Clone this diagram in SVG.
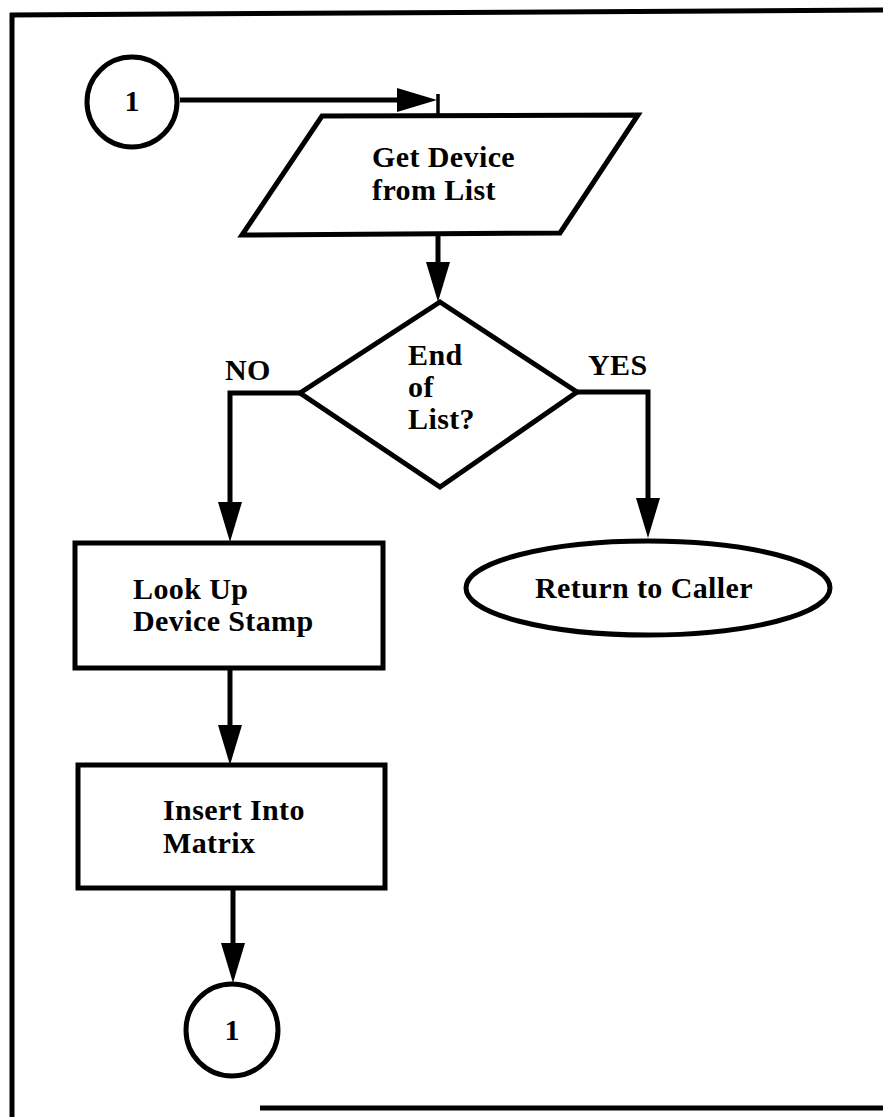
<svg xmlns="http://www.w3.org/2000/svg" width="883" height="1117" viewBox="0 0 883 1117">
<style>
  .shape { fill: #fff; stroke: #000; stroke-width: 5; }
  .frame { fill: none; stroke: #000; stroke-width: 5; }
  .conn { fill: none; stroke: #000; stroke-width: 5; }
  .lbl { font-family: "Liberation Serif", "Times New Roman", serif; font-weight: bold; font-size: 30px; letter-spacing: 0.4px; fill: #000; }
  .num { font-family: "Liberation Serif", "Times New Roman", serif; font-weight: bold; font-size: 30px; fill: #000; text-anchor: middle; }
</style>
<defs>
  <marker id="ah" markerUnits="userSpaceOnUse" markerWidth="42" markerHeight="26" refX="22" refY="12" orient="auto">
    <path d="M2,0 L42,12 L2,24 Z" fill="#000"/>
  </marker>
</defs>
<rect width="883" height="1117" fill="#fff"/>
<g id="frame">
  <line class="frame" x1="10" y1="15" x2="883" y2="10"/>
  <line class="frame" x1="12" y1="13" x2="12" y2="1117"/>
  <line class="frame" x1="260" y1="1108" x2="883" y2="1108"/>
</g>
<g id="connectors">
  <path class="conn" d="M180,100 L417,100" marker-end="url(#ah)"/>
  <line x1="438" y1="94" x2="438" y2="117" stroke="#000" stroke-width="3.5"/>
  <path class="conn" d="M438,234 L438,282" marker-end="url(#ah)"/>
  <path class="conn" d="M300,393 L230,393 L230,522" marker-end="url(#ah)"/>
  <path class="conn" d="M577,392 L648,392 L648,518" marker-end="url(#ah)"/>
  <path class="conn" d="M230,668 L230,745" marker-end="url(#ah)"/>
  <path class="conn" d="M233,888 L233,963" marker-end="url(#ah)"/>
</g>
<g id="start-connector">
  <circle class="shape" cx="132" cy="102" r="45"/>
  <text class="num" x="132" y="111">1</text>
</g>
<g id="get-device">
  <polygon class="shape" points="322,116 638,115 560,233 242,235"/>
  <text class="lbl" x="372" y="167">Get Device</text>
  <text class="lbl" x="372" y="200">from List</text>
</g>
<g id="end-of-list">
  <polygon class="shape" points="440,302 577,392 440,487 300,393"/>
  <text class="lbl" x="408" y="365">End</text>
  <text class="lbl" x="408" y="397">of</text>
  <text class="lbl" x="408" y="429">List?</text>
</g>
<g id="label-no">
  <text class="lbl" x="225" y="380">NO</text>
</g>
<g id="label-yes">
  <text class="lbl" x="588" y="375">YES</text>
</g>
<g id="return-to-caller">
  <ellipse class="shape" cx="648" cy="588" rx="182" ry="47"/>
  <text class="lbl" x="644" y="598" text-anchor="middle">Return to Caller</text>
</g>
<g id="look-up">
  <rect class="shape" x="75" y="543" width="308" height="125"/>
  <text class="lbl" x="133" y="599">Look Up</text>
  <text class="lbl" x="133" y="631">Device Stamp</text>
</g>
<g id="insert-into">
  <rect class="shape" x="78" y="765" width="307" height="123"/>
  <text class="lbl" x="163" y="820">Insert Into</text>
  <text class="lbl" x="163" y="853">Matrix</text>
</g>
<g id="end-connector">
  <circle class="shape" cx="232" cy="1030" r="46"/>
  <text class="num" x="232" y="1040">1</text>
</g>
</svg>
